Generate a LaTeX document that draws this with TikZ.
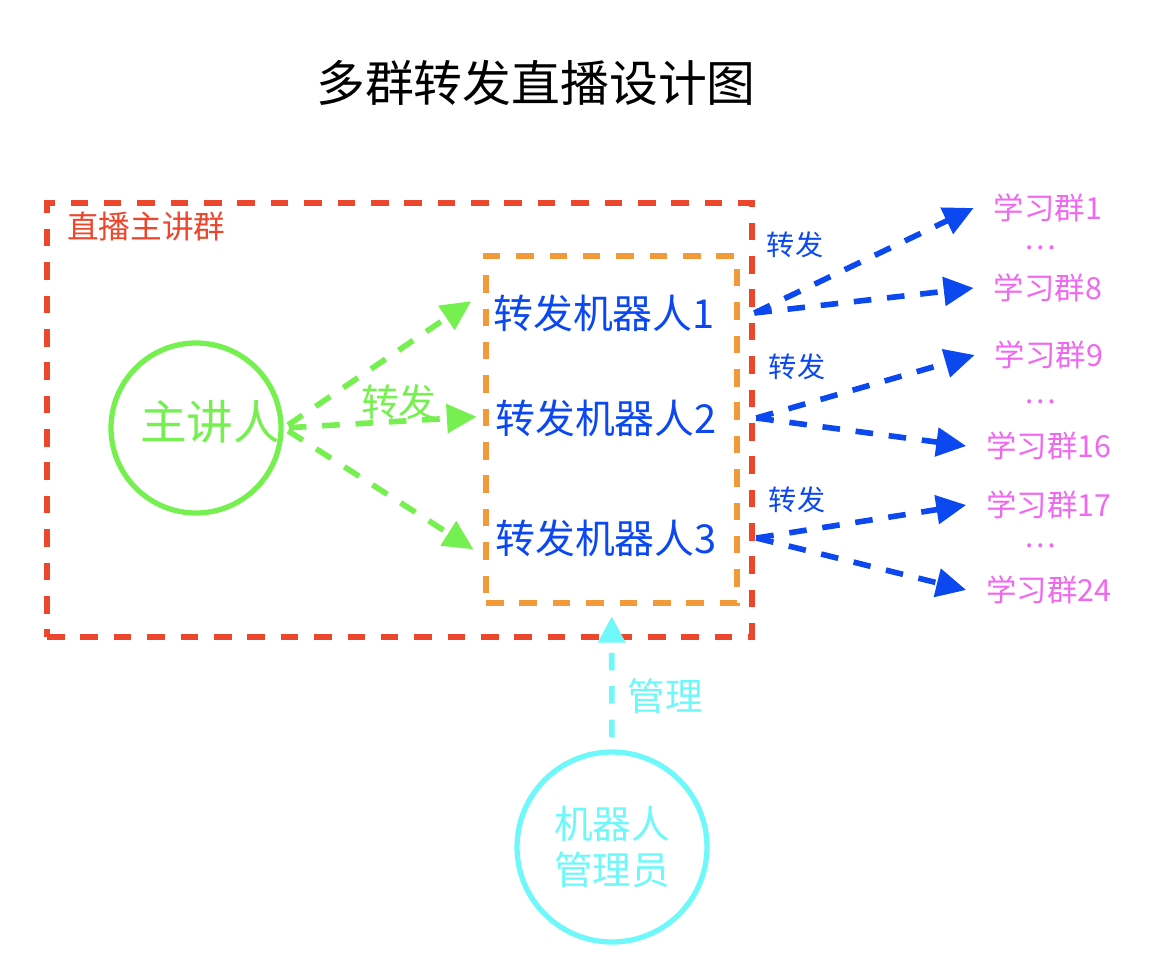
\documentclass[tikz,border=0pt]{standalone}
\usepackage{fontspec}
\setmainfont{Noto Sans CJK SC}
\usetikzlibrary{arrows.meta,positioning}
\definecolor{livered}{RGB}{236,70,44}
\definecolor{botorange}{RGB}{242,154,58}
\definecolor{spgreen}{RGB}{118,240,80}
\definecolor{botblue}{RGB}{12,72,240}
\definecolor{grppink}{RGB}{240,104,240}
\definecolor{admcyan}{RGB}{110,248,250}
\newcommand{\fsz}[1]{\fontsize{#1}{#1}\selectfont}

\begin{document}
\begin{tikzpicture}[x=0.02cm, y=-0.02cm,
	dsh/.style={line width=3.2pt, dash pattern=on 10pt off 9pt},
	c/.style={circle, draw, line width=3pt, inner sep=0pt},
	bot/.style={text=botblue, minimum width=6cm, font=\fsz{22.7}},
	grp/.style={text=grppink, inner xsep=0.4cm, inner ysep=0pt, font=\fsz{17.3}},
	dots/.style={text=grppink, inner sep=0pt, font=\fsz{17}},
	fwd/.style={text=botblue, inner sep=0pt, font=\fsz{16}},
	tip/.style={-{Triangle[length=17pt, width=16pt]}}]
		\useasboundingbox (0,0) rectangle (1151,962);

		\node[font=\fsz{27.8}] (title) at (536,83) {多群转发直播设计图};

		\node[draw=livered, dsh, minimum width=14.1cm, minimum height=8.68cm] (live) at (399.5,420) {};
		\node[anchor=west, text=livered, inner sep=0pt, font=\fsz{18}] (livelbl) at (67,226) {直播主讲群};
		\node[draw=botorange, dsh, minimum width=5.02cm, minimum height=6.94cm] (bots) at (611.5,429.5) {};

		\node[bot] (r1) at (604,313) {转发机器人1};
		\node[bot] (r2) at (606,418) {转发机器人2};
		\node[bot] (r3) at (606,538) {转发机器人3};

		\node[c, draw=spgreen, minimum size=3.4cm] (sp) at (196,428) {};
		\node[text=spgreen, inner sep=0pt, font=\fsz{26.5}] (sptxt) at (210,422) {主讲人};

		\node[grp] (g1) at (1048,208) {学习群1};
		\node[dots] (d1) at (1040,248) {…};
		\node[grp] (g8) at (1048,288) {学习群8};
		\node[grp] (g9) at (1049,355) {学习群9};
		\node[dots] (d2) at (1040,402) {…};
		\node[grp] (g16) at (1049,446) {学习群16};
		\node[grp] (g17) at (1049,505) {学习群17};
		\node[dots] (d3) at (1040,546) {…};
		\node[grp] (g24) at (1049,590) {学习群24};

		\node[fwd] (f1) at (795,245) {转发};
		\node[fwd] (f2) at (797,367) {转发};
		\node[fwd] (f3) at (797,500) {转发};

		\node[c, draw=admcyan, text=admcyan, minimum size=3.8cm, align=center, font=\fontsize{22}{26}\selectfont] (adm) at (612,847) {机器人\\管理员};

		\path[tip, dsh, color=spgreen, shorten <=3pt, shorten >=-12pt] (sp.east) edge (r1.west);
		\path[tip, dsh, color=spgreen, shorten <=3pt, shorten >=-12pt] (sp.east) edge node [above=-4pt, pos=0.67, font=\fsz{21.5}] {转发} (r2.west);
		\path[tip, dsh, color=spgreen, shorten <=3pt, shorten >=-12pt] (sp.east) edge (r3.west);

		\path[tip, dsh, color=botblue] (r1.east) edge (g1.west);
		\path[tip, dsh, color=botblue] (r1.east) edge (g8.west);
		\path[tip, dsh, color=botblue] (r2.east) edge (g9.west);
		\path[tip, dsh, color=botblue] (r2.east) edge (g16.west);
		\path[tip, dsh, color=botblue] (r3.east) edge (g17.west);
		\path[tip, dsh, color=botblue] (r3.east) edge (g24.west);

		\path[-{Triangle[length=15pt, width=15pt]}, dsh, color=admcyan, shorten <=7pt, shorten >=6pt] (adm) edge node [right=0.15cm, pos=0.37, font=\fsz{21.5}] {管理} (bots);
	\end{tikzpicture}
\end{document}
